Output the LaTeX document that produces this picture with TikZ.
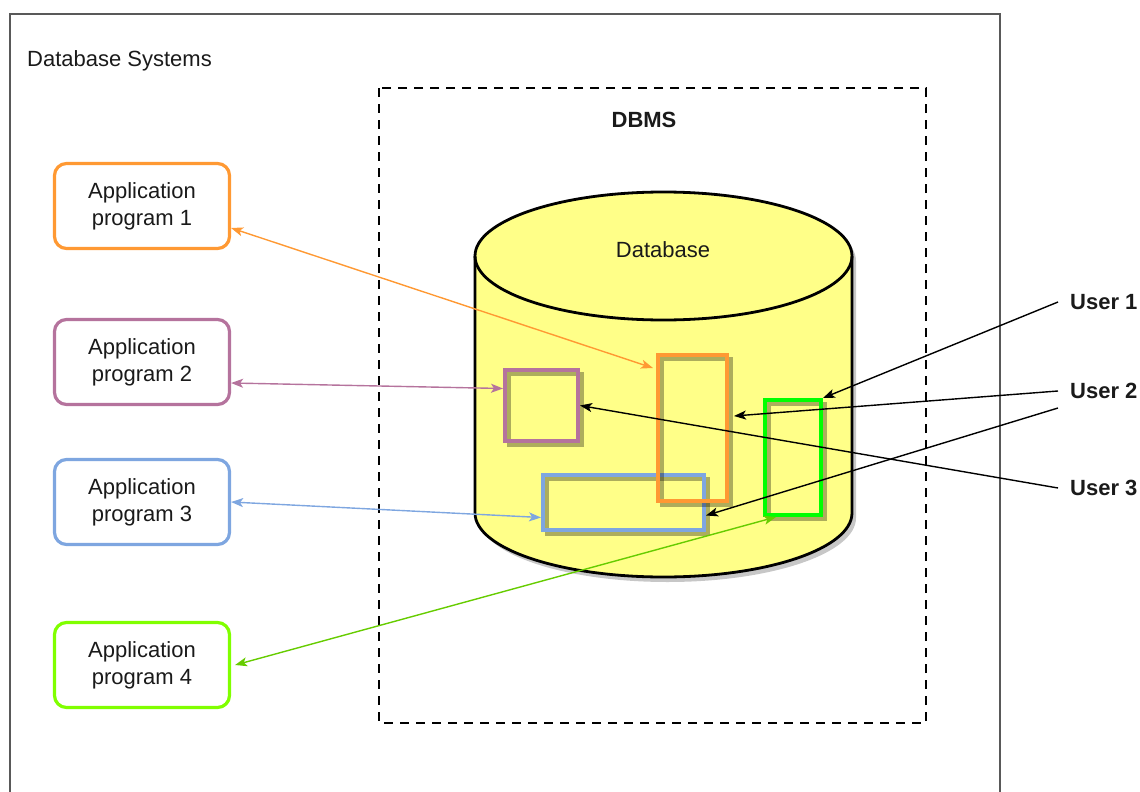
\documentclass[tikz,border=0pt]{standalone}
\usepackage{fontspec}
\setmainfont{Liberation Sans}
\usetikzlibrary{arrows.meta}
\definecolor{cOrange}{HTML}{FF9933}
\definecolor{cPurple}{HTML}{B5739D}
\definecolor{cBlue}{HTML}{7EA6E0}
\definecolor{cLime}{HTML}{80FF00}
\definecolor{cGreen}{HTML}{00FF00}
\definecolor{cGreenArr}{HTML}{66CC00}
\definecolor{cDb}{HTML}{FFFF88}
\definecolor{cText}{HTML}{1A1A1A}
\begin{document}
\begin{tikzpicture}[x=1pt,y=-1pt,
  every node/.style={font=\fontsize{22}{27}\selectfont, text=cText},
  appbox/.style={draw, line width=3.2pt, rounded corners=12pt, minimum width=175pt, minimum height=85pt, align=center, fill=white},
  inrect/.style={draw, line width=4pt, inner sep=0pt,
     preaction={draw=black, draw opacity=0.32, transform canvas={shift={(4pt,-4pt)}}}},
  conn/.style={line width=1.4pt, arrows={-Stealth[length=12pt,width=9pt,inset=3pt]}},
  dconn/.style={line width=1.4pt, arrows={Stealth[length=12pt,width=9pt,inset=3pt]-Stealth[length=12pt,width=9pt,inset=3pt]}},
  usr/.style={font=\fontsize{22}{26}\selectfont\bfseries, anchor=west, inner xsep=12pt, inner ysep=2pt}
]
\useasboundingbox (0,0) rectangle (1140,792);
% outer frame
\draw[line width=2pt, draw=black!65] (10,14) rectangle (1000,810);
\node[anchor=west, inner sep=0pt] (sys) at (27,61) {Database Systems};
% DBMS dashed box
\draw[line width=2.5pt, dash pattern=on 9pt off 7pt] (379,88) rectangle (926,723);
\node[font=\fontsize{22}{26}\selectfont\bfseries] (dbms) at (644,120) {DBMS};
% cylinder shadow
\fill[black, opacity=0.22] (479,261) -- (479,518) arc[start angle=180,end angle=360,x radius=188.5pt,y radius=64pt] -- (856,261) arc[start angle=0,end angle=180,x radius=188.5pt,y radius=64pt] -- cycle;
% cylinder
\draw[line width=2.8pt, fill=cDb] (475,256) -- (475,513) arc[start angle=180,end angle=360,x radius=188.5pt,y radius=64pt] -- (852,256) arc[start angle=0,end angle=180,x radius=188.5pt,y radius=64pt] -- cycle;
\draw[line width=2.8pt] (475,256) arc[start angle=180,end angle=360,x radius=188.5pt,y radius=64pt];
\node (dblabel) at (663,250) {Database};
% inner rectangles
\node[inrect, draw=cPurple, minimum width=73pt, minimum height=71pt] (prect) at (541.5,405.5) {};
\node[inrect, draw=cBlue, minimum width=161pt, minimum height=55pt] (brect) at (623.5,502.5) {};
\node[inrect, draw=cOrange, minimum width=69pt, minimum height=146pt] (orect) at (692.5,428) {};
\node[inrect, draw=cGreen, minimum width=56pt, minimum height=115pt] (grect) at (793,457.5) {};
% application boxes
\node[appbox, draw=cOrange] (app1) at (142,206) {Application\\program 1};
\node[appbox, draw=cPurple] (app2) at (142,362) {Application\\program 2};
\node[appbox, draw=cBlue] (app3) at (142,502) {Application\\program 3};
\node[appbox, draw=cLime] (app4) at (142,665) {Application\\program 4};
% users
\node[usr] (u1) at (1058,302) {User 1};
\node[usr] (u2) at (1058,391) {User 2};
\node[usr] (u3) at (1058,488) {User 3};
% app connectors
\draw[dconn, draw=cOrange] ([yshift=-22pt]app1.east) -- ([yshift=60pt,xshift=-3pt]orect.west);
\draw[dconn, draw=cPurple] ([yshift=-21pt]app2.east) -- ([yshift=17pt]prect.west);
\draw[dconn, draw=cBlue] (app3.east) -- ([yshift=-15pt]brect.west);
\draw[dconn, draw=cGreenArr] ([xshift=4pt]app4.east) -- ([xshift=-17pt]grect.south);
% user connectors
\draw[conn] (u1.west) -- (grect.north east);
\draw[conn] (u2.west) -- ([yshift=12pt,xshift=5pt]orect.east);
\draw[conn] ([yshift=-17pt]u2.west) -- ([yshift=-13pt]brect.east);
\draw[conn] (u3.west) -- (prect.east);
\end{tikzpicture}
\end{document}
